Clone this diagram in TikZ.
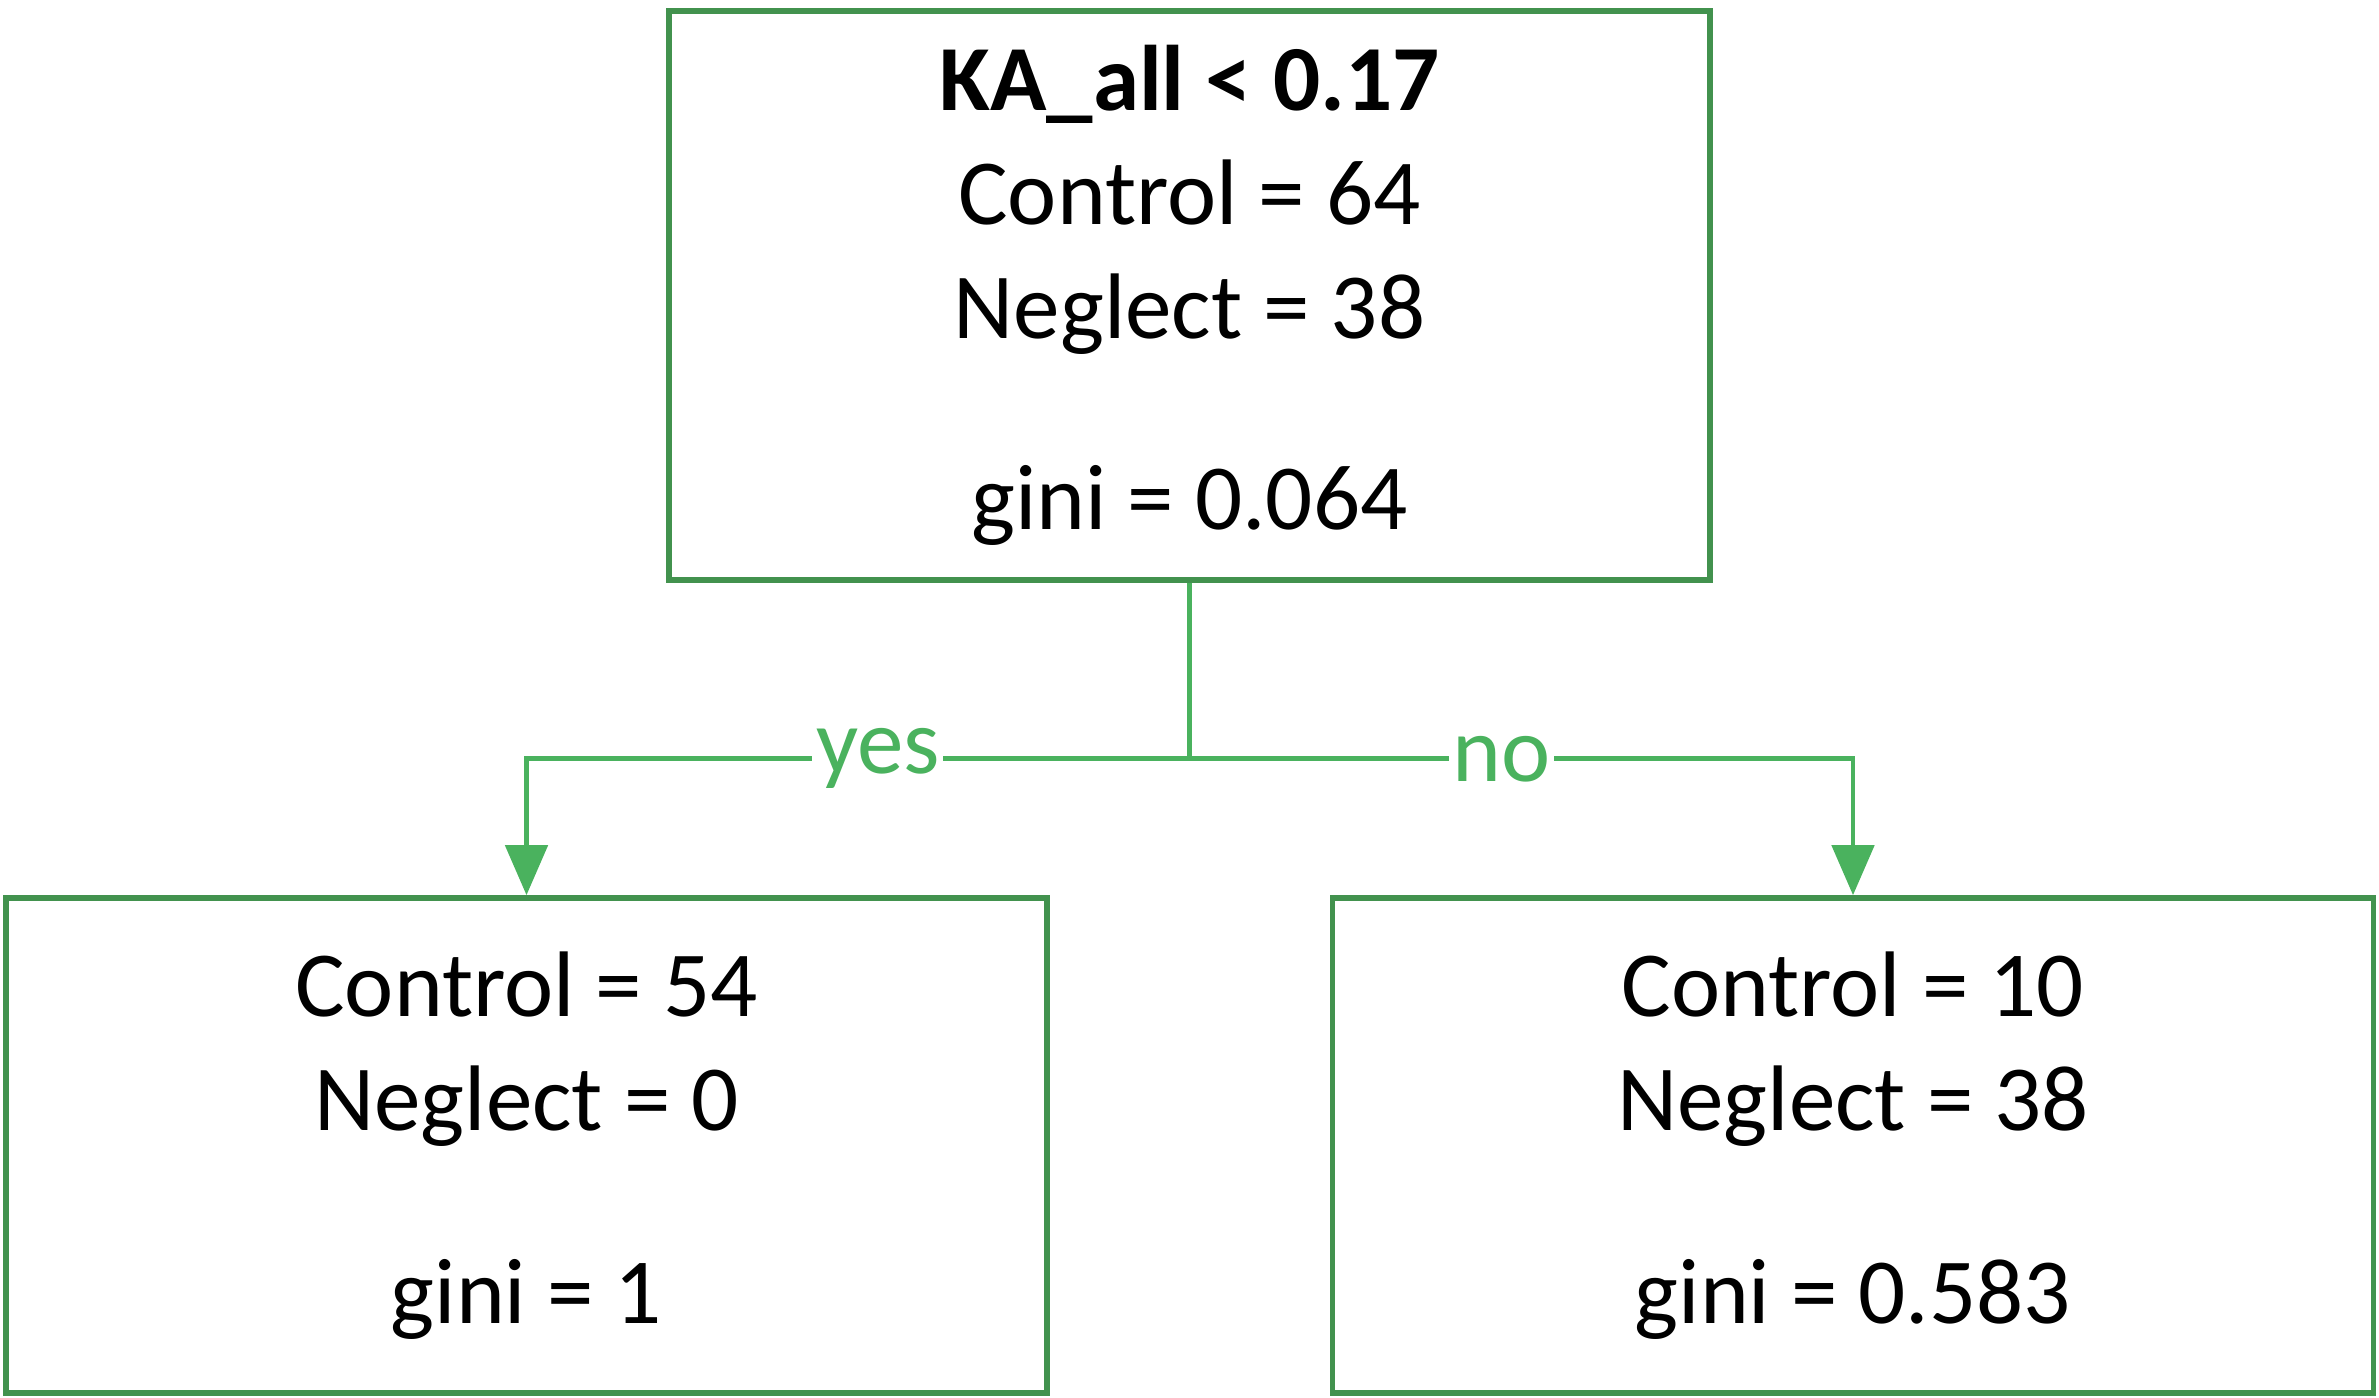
\documentclass[tikz,border=0pt]{standalone}
\usepackage{fontspec}
\setmainfont{Carlito}
\usetikzlibrary{arrows.meta}
\definecolor{boxgreen}{RGB}{66,146,78}
\definecolor{linegreen}{RGB}{74,178,94}
\tikzset{
  treebox/.style={draw=boxgreen, line width=1.6pt, inner sep=0pt, align=center,
    minimum width=10.41cm, font=\fontsize{26.5}{32.4}\selectfont},
  branch/.style={draw=linegreen, line width=1.4pt},
  answer/.style={fill=white, text=linegreen, inner sep=1pt, pos=0.47,
    font=\fontsize{26.5}{32.4}\selectfont}
}
\begin{document}
\begin{tikzpicture}
  \useasboundingbox (0,0) rectangle (23.79,-13.98);
  % split node
  \node [treebox, minimum height=5.69cm] (root) at (11.895,-2.955)
    {\textbf{KA\_all < 0.17}\\Control = 64\\Neglect = 38\\[0.77cm]gini = 0.064};
  % leaves
  \node [treebox, minimum height=4.95cm] (yesleaf) at (5.265,-11.455)
    {Control = 54\\Neglect = 0\\[0.79cm]gini = 1};
  \node [treebox, minimum height=4.95cm] (noleaf) at (18.53,-11.455)
    {Control = 10\\Neglect = 38\\[0.79cm]gini = 0.583};
  % connectors
  \draw [branch] (root.south) -- ++(0,-1.76) coordinate (split);
  \draw [branch, -{Triangle[length=0.5cm, width=0.42cm]}] (split)
    -- node [answer] {yes} (split -| yesleaf.north) -- (yesleaf.north);
  \draw [branch, -{Triangle[length=0.5cm, width=0.42cm]}] (split)
    -- node [answer] {no} (split -| noleaf.north) -- (noleaf.north);
\end{tikzpicture}
\end{document}
